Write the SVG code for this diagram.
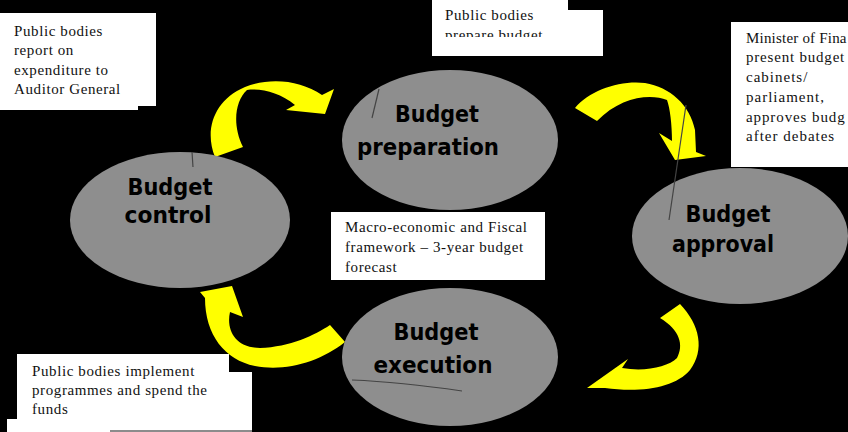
<svg xmlns="http://www.w3.org/2000/svg" width="848" height="432" viewBox="0 0 848 432">
<style>
.ell{fill:#8e8e8e}
.lbl{font-family:"Comic Sans MS","DejaVu Sans",sans-serif;font-size:23px;font-weight:bold;fill:#000;text-anchor:middle}
.box{fill:#fff}
.note{font-family:"Liberation Serif","Times New Roman",serif;font-size:15px;fill:#111;letter-spacing:0.6px}
.arrow{fill:#ffff00}
.mark{fill:none;stroke:#444;stroke-width:1.2}
</style>
<defs>
<clipPath id="clipTop"><rect x="432" y="0" width="171" height="37"/></clipPath>
</defs>
<rect x="0" y="0" width="848" height="432" fill="#000"/>

<g id="connectors">
<path class="arrow" d="M215,157 C204,130 214,100 245,87 C270,77 300,80 322,95 L334,89 L325,114 L286,110 L295,105 C280,93 262,88 247,90 C235,101 232,125 243,147 Z"/>
<path class="arrow" d="M575,108 C590,90 620,80 645,83 C670,87 690,105 695,130 L696,152 L706,156 L675,160 L659,133 L672,141 C672,125 670,108 667,100 C650,93 620,97 597,121 Z"/>
<path class="arrow" d="M660,318 L680,304 C700,325 705,350 690,370 C675,388 640,393 605,388 L587,388 L628,359 L622,368 C645,372 668,367 677,358 C684,345 680,330 660,318 Z"/>
<path class="arrow" d="M205,298 L200,292 L232,286 L243,317 L230,312 C226,330 235,348 260,348 C290,347 315,335 330,325 L345,342 C320,362 285,372 255,366 C225,360 205,335 205,298 Z"/>
</g>

<g id="node-preparation">
<ellipse class="ell" cx="450" cy="140" rx="108" ry="70"/>
<line class="mark" x1="379" y1="89" x2="372" y2="118"/>
<text class="lbl" x="437" y="122" textLength="84" lengthAdjust="spacingAndGlyphs">Budget</text>
<text class="lbl" x="428" y="155" textLength="142" lengthAdjust="spacingAndGlyphs">preparation</text>
</g>

<g id="node-control">
<ellipse class="ell" cx="180" cy="220" rx="110" ry="68"/>
<line class="mark" x1="192" y1="152" x2="193" y2="167"/>
<text class="lbl" x="170" y="195" textLength="85" lengthAdjust="spacingAndGlyphs">Budget</text>
<text class="lbl" x="168" y="223" textLength="87" lengthAdjust="spacingAndGlyphs">control</text>
</g>

<g id="node-approval">
<ellipse class="ell" cx="740" cy="236" rx="108" ry="68"/>
<line class="mark" x1="686" y1="105" x2="669" y2="220"/>
<text class="lbl" x="728" y="222" textLength="85" lengthAdjust="spacingAndGlyphs">Budget</text>
<text class="lbl" x="723" y="252" textLength="102" lengthAdjust="spacingAndGlyphs">approval</text>
</g>

<g id="node-execution">
<ellipse class="ell" cx="450" cy="357" rx="108" ry="69"/>
<path class="mark" d="M352,380 Q400,382 462,391"/>
<text class="lbl" x="436" y="340" textLength="85" lengthAdjust="spacingAndGlyphs">Budget</text>
<text class="lbl" x="433" y="373" textLength="119" lengthAdjust="spacingAndGlyphs">execution</text>
</g>

<g id="note-control">
<path class="box" d="M0,13 H156 V106 H138 V110 H0 Z"/>
<text class="note" x="14" y="36">Public bodies</text>
<text class="note" x="14" y="55">report on</text>
<text class="note" x="14" y="75">expenditure to</text>
<text class="note" x="14" y="94">Auditor General</text>
</g>

<g id="note-preparation">
<path class="box" d="M432,0 H568 V10 H603 V56 H432 Z"/>
<g clip-path="url(#clipTop)">
<text class="note" x="445" y="20">Public bodies</text>
<text class="note" x="445" y="40">prepare budget</text>
</g>
</g>

<g id="note-approval">
<rect class="box" x="731" y="22" width="117" height="145"/>
<text class="note" x="746" y="43" style="letter-spacing:0.2px">Minister of Fina</text>
<text class="note" x="746" y="62" style="letter-spacing:0.8px">present budget</text>
<text class="note" x="746" y="82" style="letter-spacing:1px">cabinets/</text>
<text class="note" x="746" y="102" style="letter-spacing:1px">parliament,</text>
<text class="note" x="746" y="122" style="letter-spacing:0.9px">approves budg</text>
<text class="note" x="746" y="141" style="letter-spacing:1px">after debates</text>
</g>

<g id="note-framework">
<rect class="box" x="331" y="212" width="214" height="68"/>
<text class="note" x="345" y="232">Macro-economic and Fiscal</text>
<text class="note" x="345" y="252">framework – 3-year budget</text>
<text class="note" x="345" y="272">forecast</text>
</g>

<g id="note-execution">
<path class="box" d="M17,354 H229 V372 H252 V432 H7 V419 H17 Z"/>
<line x1="110" y1="431" x2="252" y2="431" stroke="#666" stroke-width="1.5"/>
<text class="note" x="32" y="376">Public bodies implement</text>
<text class="note" x="32" y="395">programmes and spend the</text>
<text class="note" x="32" y="414">funds</text>
</g>
</svg>
